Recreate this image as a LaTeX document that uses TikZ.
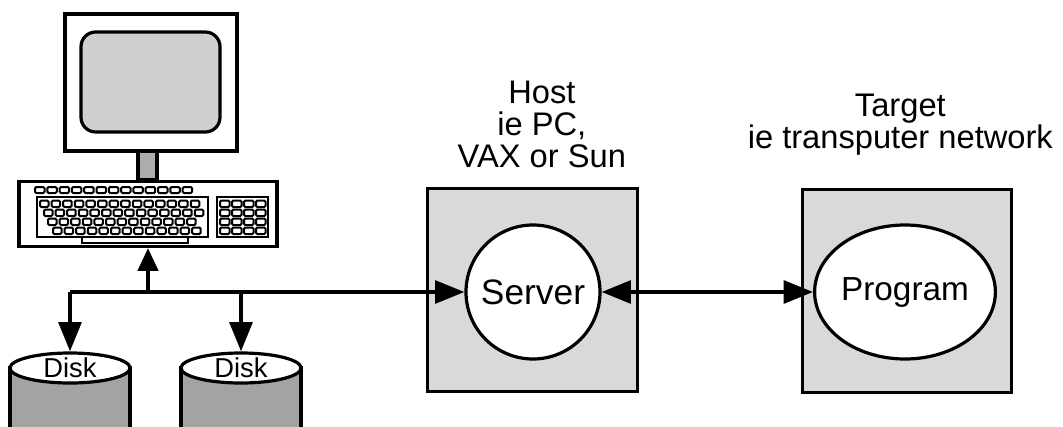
\documentclass[tikz,border=0pt]{standalone}
\usepackage{fontspec}
\setmainfont{Liberation Sans}
\usetikzlibrary{arrows.meta,positioning,shapes.geometric}
\tikzset{
    frame/.style ={
        shape=rectangle,
        draw=black,
        fill=white,
        line width=2.4pt,
        inner sep=0pt
    },
    box/.style ={
        shape=rectangle,
        draw=black,
        fill=gray!30,
        line width=2.4pt,
        inner sep=0pt,
        minimum width=157pt,
        minimum height=152pt
    },
    bubble/.style ={
        shape=circle,
        draw=black,
        fill=white,
        line width=2.4pt,
        inner sep=0pt,
        minimum size=100.5pt,
        font=\fontsize{26.5}{28}\selectfont
    },
    oval/.style ={
        shape=ellipse,
        draw=black,
        fill=white,
        line width=2.4pt,
        inner sep=0pt,
        minimum width=117pt,
        minimum height=100.5pt,
        font=\fontsize{25}{28}\selectfont
    },
    disk/.style ={
        shape=ellipse,
        draw=black,
        fill=white,
        line width=2.4pt,
        inner sep=0pt,
        minimum width=90pt,
        minimum height=22.5pt,
        font=\fontsize{20.5}{22}\selectfont
    },
    caption/.style ={
        align=center,
        font=\fontsize{24.5}{24}\selectfont
    },
    key/.style ={
        draw=black,
        fill=white,
        line width=1.5pt,
        rounded corners=1pt
    },
    link/.style ={
        line width=3pt,
        -{Triangle[length=22pt,width=17pt]}
    }
}

\begin{document}
\begin{tikzpicture}[x=0.75pt,y=0.75pt]
    \useasboundingbox (0,0) rectangle (1063,426);
    \clip (0,0) rectangle (1063,426);

    % terminal
    \node[frame] (monitor) at (151,343.5) [minimum width=129pt,minimum height=102.75pt] {};
    \node[frame,fill=gray!38,rounded corners=11pt] (screen) at (150.5,344)
        [minimum width=104.25pt,minimum height=75pt] {};
    \node[frame,fill=gray!65] (neck) at (147.5,260.5) [minimum width=14.25pt,minimum height=21.75pt] {};
    \node[frame] (kbd) at (148,212) [minimum width=193.5pt,minimum height=48.75pt] {};

    % keys
    \foreach \i in {0,...,12}
        \draw[key] (35+\i*12.3,233) rectangle ++(9.5,6);
    \draw[line width=1.5pt] (37,189) rectangle (208,229);
    \draw[line width=1.5pt] (82,183) rectangle (188,189);
    \foreach \y/\s/\n in {219/40/13, 210/44/13, 201/48/12, 192/53/12}
        \foreach \i in {0,...,\n}
            \draw[key] (\s+\i*11.6,\y) rectangle ++(8.5,6.5);
    \draw[line width=1.5pt] (217,189) rectangle (268,229);
    \foreach \y in {219,210,201,192}
        \foreach \i in {0,...,3}
            \draw[key] (220+\i*12,\y) rectangle ++(9.5,6.5);

    % disks
    \foreach \x in {70,241}
        \draw[line width=2.4pt,fill=gray!72] (\x-60,58) -- (\x-60,-20) -- (\x+60,-20) -- (\x+60,58) -- cycle;
    \node[disk] (disk1) at (70,58) {Disk};
    \node[disk] (disk2) at (241,58) {Disk};

    % host and target
    \node[box] (host) at (532.5,136) {};
    \node[box] (target) at (907,135) {};
    \node[bubble] (server) at (533,134) {Server};
    \node[oval] (program) at (905,134) {Program};
    \node[caption,above=11pt of host,xshift=7pt] (hostlabel) {Host\\ie PC,\\VAX or Sun};
    \node[caption,above=21pt of target,xshift=-5pt] (targetlabel) {Target\\ie transputer network};

    % connections
    \coordinate (bus) at (kbd.south |- server.west);
    \draw[link] (disk1.north |- bus) -- (server.west);
    \draw[link] (disk1.north |- bus) -- (disk1.north);
    \draw[link] (disk2.north |- bus) -- (disk2.north);
    \draw[link,-{Triangle[length=17pt,width=15pt]}] (bus) -- (kbd.south);
    \draw[link,{Triangle[length=22pt,width=17pt]}-{Triangle[length=22pt,width=17pt]}] (server.east) -- (program.west);
\end{tikzpicture}
\end{document}
